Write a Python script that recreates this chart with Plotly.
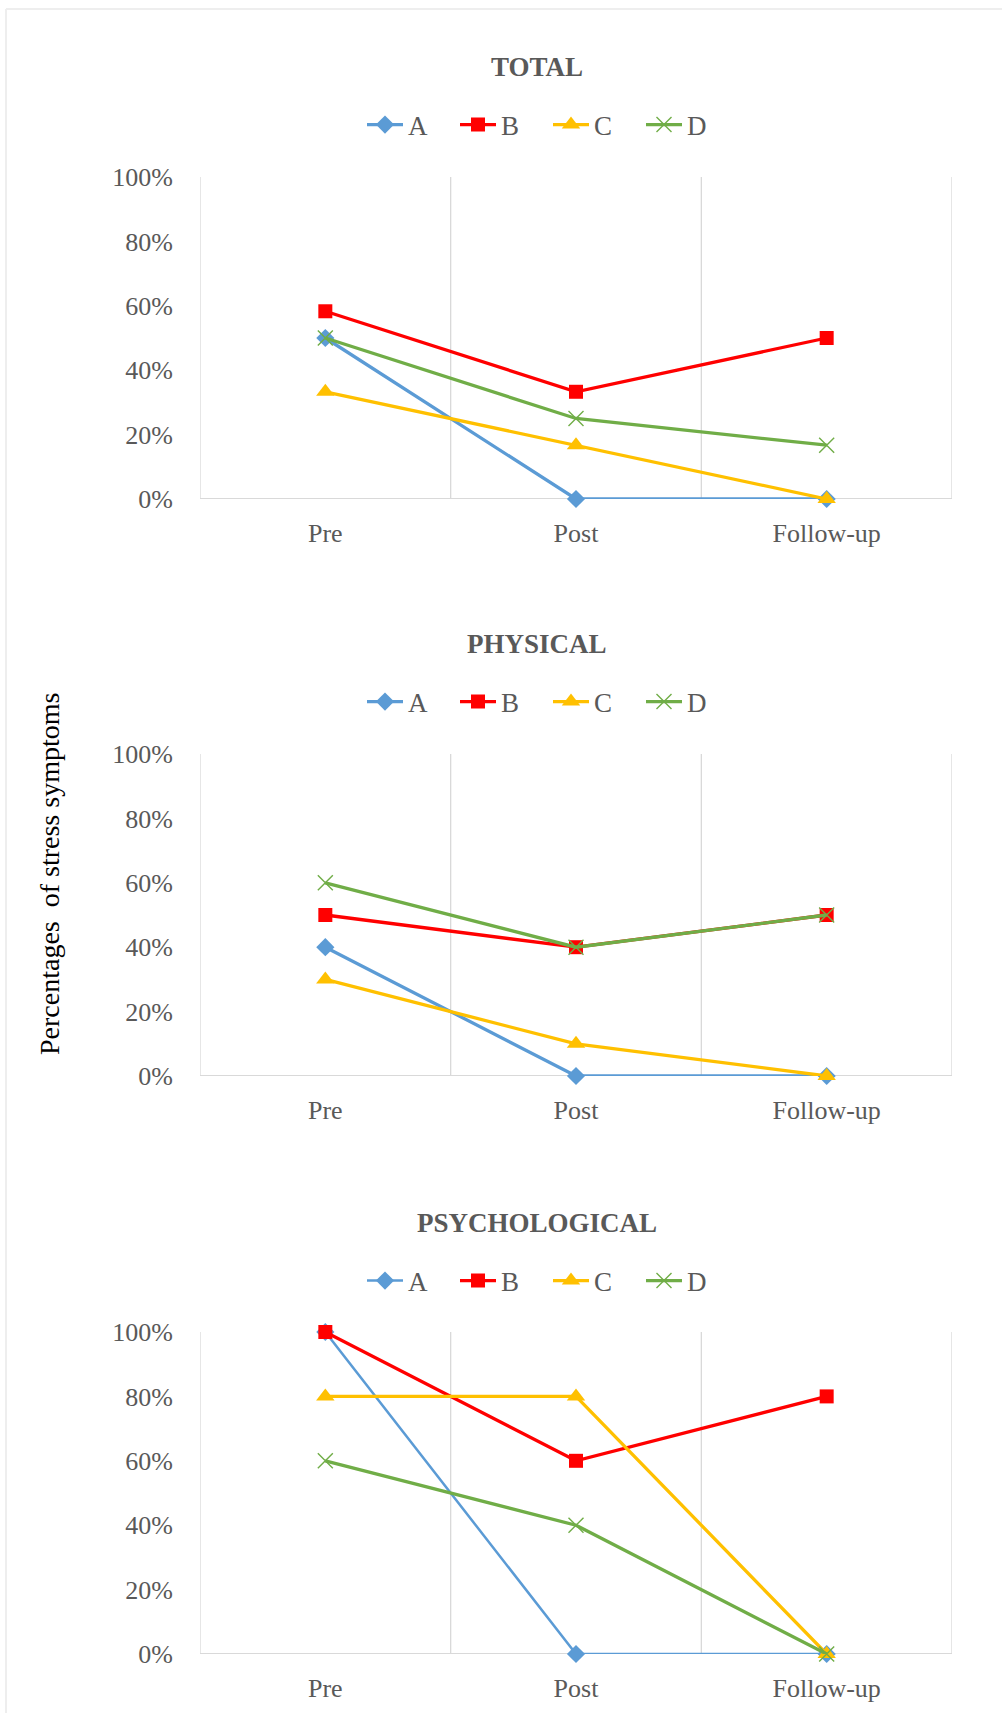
import plotly.graph_objects as go

# Assessment points and groups
stages = ["Pre", "Post", "Follow-up"]
groups = ["A", "B", "C", "D"]

# Share of participants with stress symptoms (fractions) per group and stage
total_A = [0.50, 0.00, 0.00]
total_B = [0.583, 0.333, 0.50]
total_C = [0.333, 0.167, 0.00]
total_D = [0.50, 0.25, 0.167]

physical_A = [0.40, 0.00, 0.00]
physical_B = [0.50, 0.40, 0.50]
physical_C = [0.30, 0.10, 0.00]
physical_D = [0.60, 0.40, 0.50]

psychological_A = [1.00, 0.00, 0.00]
psychological_B = [1.00, 0.60, 0.80]
psychological_C = [0.80, 0.80, 0.00]
psychological_D = [0.60, 0.40, 0.00]

panel_titles = ["TOTAL", "PHYSICAL", "PSYCHOLOGICAL"]
y_tick_vals = [0, 0.2, 0.4, 0.6, 0.8, 1.0]
y_tick_text = ["0%", "20%", "40%", "60%", "80%", "100%"]

panels = [
    [total_A, total_B, total_C, total_D],
    [physical_A, physical_B, physical_C, physical_D],
    [psychological_A, psychological_B, psychological_C, psychological_D],
]

colors = {"A": "#5B9BD5", "B": "#FF0000", "C": "#FFC000", "D": "#70AD47"}
symbols = {"A": "diamond", "B": "square", "C": "triangle-up", "D": "x-thin"}
sizes = {"A": 14, "B": 14, "C": 16, "D": 15}

W, H = 1002, 1713
TEXT = "#595959"
FONT = "Liberation Serif, Times New Roman, serif"
GRID = "#D9D9D9"

# plot-area pixel geometry (top of 100%, bottom at 0%)
x_left, x_right = 200, 952
areas = [(177, 499), (754, 1076), (1332, 1654)]
title_y = [67, 644, 1223]
legend_y = [125, 702, 1281]
center_x = 537
legend_x = 548


def py(p):
    return 1 - p / H


fig = go.Figure()
legend_names = ["legend", "legend2", "legend3"]

for i, series in enumerate(panels):
    xa = "x" if i == 0 else f"x{i+1}"
    ya = "y" if i == 0 else f"y{i+1}"
    for g, vals in zip(groups, series):
        lw = 2.5 if (i == 2 and g == "A") else 3.3
        marker = dict(symbol=symbols[g], size=sizes[g], color=colors[g])
        if g == "D":
            marker["line"] = dict(color=colors[g], width=1.4)
        fig.add_trace(go.Scatter(
            x=[0, 1, 2], y=vals, name=g, mode="lines+markers",
            line=dict(color=colors[g], width=lw),
            marker=marker, xaxis=xa, yaxis=ya,
            legend=legend_names[i], cliponaxis=False,
            hoverinfo="skip",
        ))

    top, bot = areas[i]
    xkey = "xaxis" if i == 0 else f"xaxis{i+1}"
    ykey = "yaxis" if i == 0 else f"yaxis{i+1}"
    fig.layout[xkey] = dict(
        domain=[x_left / W, x_right / W], range=[-0.5, 2.5],
        tickvals=[0, 1, 2], ticktext=stages, showgrid=False,
        zeroline=False, showline=False, ticks="",
        ticklabelstandoff=16, automargin=False,
        tickfont=dict(family=FONT, size=26, color=TEXT),
        anchor=ya, fixedrange=True,
    )
    fig.layout[ykey] = dict(
        domain=[py(bot), py(top)], range=[0, 1],
        tickvals=y_tick_vals, ticktext=y_tick_text, showgrid=False,
        zeroline=False, showline=False, ticks="",
        ticklabelstandoff=26, automargin=False,
        tickfont=dict(family=FONT, size=26, color=TEXT),
        anchor=xa, fixedrange=True,
    )
    # category boundary lines and baseline
    for xv in [-0.5, 0.5, 1.5, 2.5]:
        fig.add_shape(type="line", xref=xa, yref=f"{ya} domain",
                      x0=xv, x1=xv, y0=0, y1=1,
                      line=dict(color=GRID, width=1.3), layer="below")
    fig.add_shape(type="line", xref=f"{xa} domain", yref=ya,
                  x0=0, x1=1, y0=0, y1=0,
                  line=dict(color=GRID, width=2), layer="below")

    fig.add_annotation(
        text=f"<b>{panel_titles[i]}</b>", x=center_x / W, y=py(title_y[i]),
        xref="paper", yref="paper", showarrow=False,
        xanchor="center", yanchor="middle",
        font=dict(family=FONT, size=27, color=TEXT),
    )
    fig.layout[legend_names[i]] = dict(
        orientation="h", x=legend_x / W, y=py(legend_y[i]),
        xanchor="center", yanchor="middle",
        font=dict(family=FONT, size=27, color=TEXT),
        bgcolor="rgba(0,0,0,0)", itemwidth=36, entrywidth=42,
        tracegroupgap=0, itemclick=False, itemdoubleclick=False,
    )

fig.add_annotation(
    text="Percentages  of stress symptoms", x=49 / W, y=py(874),
    xref="paper", yref="paper", showarrow=False, textangle=-90,
    xanchor="center", yanchor="middle",
    font=dict(family=FONT, size=28, color="#000000"),
)

# faint frame around the chart area
fig.add_shape(type="line", xref="paper", yref="paper",
              x0=6 / W, x1=1, y0=py(9), y1=py(9),
              line=dict(color="#EEEEEE", width=2))
fig.add_shape(type="line", xref="paper", yref="paper",
              x0=6 / W, x1=6 / W, y0=0, y1=py(9),
              line=dict(color="#EEEEEE", width=2))

fig.update_layout(
    width=W, height=H, margin=dict(l=0, r=0, t=0, b=0, autoexpand=False),
    paper_bgcolor="white", plot_bgcolor="white",
    showlegend=True,
)

fig.write_html("out.html")
